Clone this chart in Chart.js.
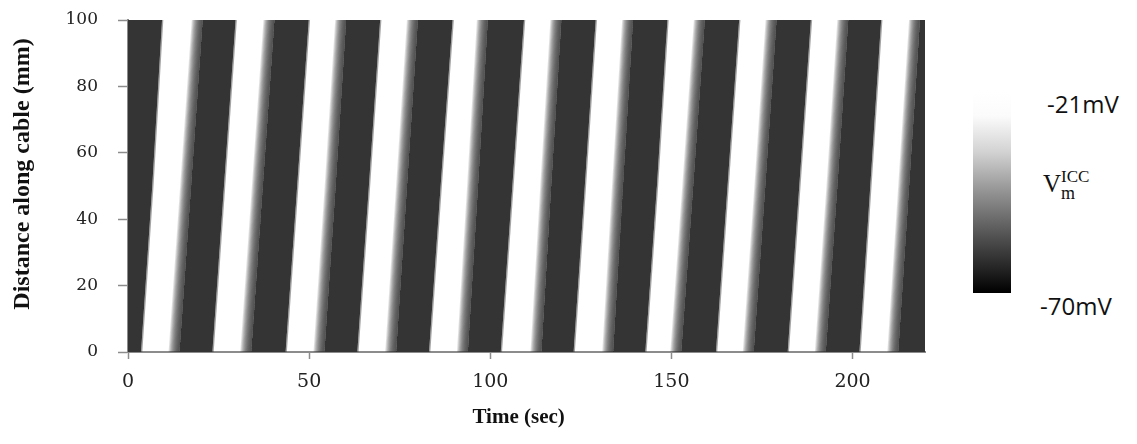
<!DOCTYPE html>
<html>
<head>
<meta charset="utf-8">
<script src="https://cdn.jsdelivr.net/npm/chart.js@4.4.1/dist/chart.umd.min.js"></script>
<style>
  html, body { margin: 0; padding: 0; background: #fff; }
  #wrap { position: relative; width: 1137px; height: 444px; overflow: hidden; }
  #plot { position: absolute; left: 0; top: 0; }
  .bar {
    position: absolute; left: 973px; top: 92px; width: 38px; height: 201px;
    background: linear-gradient(to bottom, #ffffff 0%, #fbfbfb 12%, #d2d2d2 30%, #929292 50%, #575757 70%, #1e1e1e 90%, #000 100%);
  }
  .lab { position: absolute; font-family: "Open Sans", sans-serif; font-size: 24px; line-height: 1; color: #111; white-space: nowrap; }
  .vm { position: absolute; left: 1043px; top: 171px; font-family: "Liberation Serif", serif; color: #111; }
  .vm .v { font-size: 25px; line-height: 1; }
  .vm .sup { position: absolute; left: 18px; top: -4px; font-size: 17px; }
  .vm .sub { position: absolute; left: 18px; top: 12px; font-size: 18px; }
</style>
</head>
<body>
<div id="wrap">
  <canvas id="plot" width="940" height="444"></canvas>
  <div class="bar"></div>
  <div class="lab" style="left:1047px; top:92px;">-21mV</div>
  <div class="vm"><span class="v">V</span><span class="sup">ICC</span><span class="sub">m</span></div>
  <div class="lab" style="left:1040px; top:294px;">-70mV</div>
</div>
<script>
// edges of the dark (resting) bands, time in sec read at 0, 50 and 100 mm
const distance = [0, 50, 100];
const onset0   = [-8, 12.7, 32.5, 52.7, 72.5, 92.3, 112.6, 132.4, 151.2, 171.2, 191.1, 211.1];
const onset50  = [-5, 15.9, 35.7, 55.8, 75.5, 95.1, 115.3, 135.1, 154.5, 174.4, 194.3, 214.1];
const onset100 = [-2, 19.1, 38.9, 58.7, 78.5, 97.8, 118.1, 137.9, 157.7, 177.5, 197.3, 217.1];
const offset0   = [3.6, 23.3, 43.5, 63.3, 83.1, 102.9, 123.0, 142.8, 162.3, 182.1, 201.9, 222.5];
const offset50  = [6.7, 26.5, 46.7, 66.5, 86.3, 106.1, 126.1, 146.0, 165.5, 185.3, 204.9, 225.5];
const offset100 = [9.4, 29.7, 49.9, 69.6, 89.6, 109.3, 129.1, 148.9, 168.7, 188.5, 207.9, 228.5];

const xTicks = [0, 50, 100, 150, 200];
const yTicks = [0, 20, 40, 60, 80, 100];

const dark = 'rgb(52,52,52)';
const axisGrey = '#8c8c8c';

function edge(a0, a50, a100, shift) {
  return [
    { x: a0 + shift, y: distance[0] },
    { x: a50 + shift, y: distance[1] },
    { x: a100 + shift, y: distance[2] }
  ];
}

function band(fromShift, toShift, i, color, useOffset) {
  var a = edge(onset0[i], onset50[i], onset100[i], fromShift);
  var b = useOffset ? edge(offset0[i], offset50[i], offset100[i], toShift)
                    : edge(onset0[i], onset50[i], onset100[i], toShift);
  return {
    data: a.concat(b.reverse()),
    backgroundColor: color,
    fill: 'shape', showLine: true, borderWidth: 0, pointRadius: 0
  };
}

var datasets = [];
for (var i = 0; i < onset0.length; i++) {
  // soft edge where the cells repolarise (white -> dark)
  for (var j = 0; j < 12; j++) {
    datasets.push(band(-1.5 + j * 0.25, 1.5, i, 'rgba(52,52,52,0.15)', false));
  }
  // the dark band itself
  datasets.push(band(1.5, 0, i, dark, true));
  // slight blur on the upstroke side
  var b = band(0, 0.35, i, 'rgba(52,52,52,0.45)', true);
  b.data = edge(offset0[i], offset50[i], offset100[i], 0)
    .concat(edge(offset0[i], offset50[i], offset100[i], 0.35).reverse());
  datasets.push(b);
}

new Chart(document.getElementById('plot'), {
  type: 'scatter',
  data: { datasets: datasets },
  options: {
    responsive: false,
    animation: false,
    layout: { padding: { left: 0, right: 15, top: 20, bottom: 0 } },
    plugins: { legend: { display: false }, tooltip: { enabled: false } },
    scales: {
      x: {
        type: 'linear', min: 0, max: 220,
        afterBuildTicks: function(s) { s.ticks = xTicks.map(function(v) { return { value: v }; }); },
        afterFit: function(s) { s.height = 92; s.paddingLeft = 0; s.paddingRight = 0; },
        grid: { drawOnChartArea: false, drawTicks: true, tickLength: 7, color: axisGrey, tickWidth: 1.5 },
        border: { display: true, color: axisGrey, width: 2 },
        ticks: { padding: 12, color: '#222', font: { family: 'DejaVu Serif', size: 19 } },
        title: { display: true, text: 'Time (sec)   ', color: '#111', padding: { top: 0, bottom: 14 },
                 font: { family: 'Liberation Serif', size: 21, weight: 'bold' } }
      },
      y: {
        type: 'linear', min: 0, max: 100,
        afterBuildTicks: function(s) { s.ticks = yTicks.map(function(v) { return { value: v }; }); },
        afterFit: function(s) { s.width = 128; s.paddingTop = 0; s.paddingBottom = 0; },
        grid: { drawOnChartArea: false, drawTicks: true, tickLength: 10, color: axisGrey, tickWidth: 1.5 },
        border: { display: true, color: axisGrey, width: 2 },
        ticks: { padding: 20, color: '#222', font: { family: 'DejaVu Serif', size: 17 } },
        title: { display: true, text: '    Distance along cable (mm)', color: '#111', padding: { top: 8, bottom: 0 },
                 font: { family: 'Liberation Serif', size: 24, weight: 'bold' } }
      }
    }
  }
});
</script>
</body>
</html>
